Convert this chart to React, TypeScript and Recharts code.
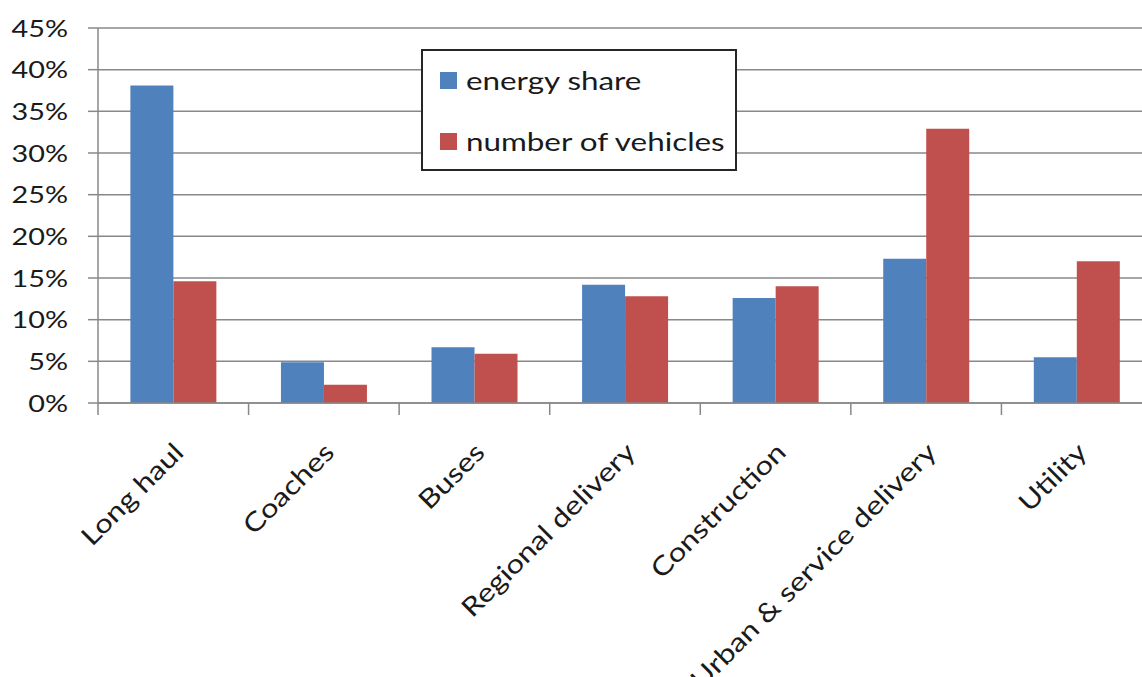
import React from 'react';
import { BarChart, Bar, XAxis, YAxis, CartesianGrid } from 'recharts';

// Vehicle segments and their shares (%)
const categories = [
    'Long haul',
    'Coaches',
    'Buses',
    'Regional delivery',
    'Construction',
    'Urban & service delivery',
    'Utility',
];
const energyShare = [38.1, 4.9, 6.7, 14.2, 12.6, 17.3, 5.5];
const vehicleShare = [14.6, 2.2, 5.9, 12.8, 14.0, 32.9, 17.0];
const yTicks = [0, 5, 10, 15, 20, 25, 30, 35, 40, 45];

const series = [
    { key: 'energy', name: 'energy share', color: '#4F81BD' },
    { key: 'vehicles', name: 'number of vehicles', color: '#C0504D' },
];

const data = categories.map((name, i) => ({
    name,
    energy: energyShare[i],
    vehicles: vehicleShare[i],
}));

const CHART_W = 1160;
const CHART_H = 677;
const MARGIN = { top: 28, right: 8, bottom: 0, left: 0 };
const Y_AXIS_W = 98;
const X_AXIS_H = 274;
const BAND = (CHART_W - MARGIN.left - MARGIN.right - Y_AXIS_W) / categories.length;

const FONT = 'Lato, "Open Sans", sans-serif';
const TEXT_COLOR = '#1a1a1a';
const AXIS_COLOR = '#888888';
const STRETCH = 1.2;

const YTick = (props: any) => {
    const { x, y, payload } = props;
    return (
        <text
            transform={`translate(${x},${y}) scale(${STRETCH},1)`}
            textAnchor="end"
            dy="0.36em"
            fontFamily={FONT}
            fontSize={24}
            fill={TEXT_COLOR}
        >
            {`${payload.value}%`}
        </text>
    );
};

const XTick = (props: any) => {
    const { x, y, payload, index } = props;
    const left = x - BAND / 2;
    const right = x + BAND / 2;
    return (
        <g>
            <line x1={left} x2={left} y1={y} y2={y + 12} stroke={AXIS_COLOR} strokeWidth={1.5} />
            {index === categories.length - 1 && (
                <line x1={right} x2={right} y1={y} y2={y + 12} stroke={AXIS_COLOR} strokeWidth={1.5} />
            )}
            <text
                transform={`translate(${x + 12},${y + 51}) rotate(-45) scale(${STRETCH},1)`}
                textAnchor="end"
                fontFamily={FONT}
                fontSize={26}
                fill={TEXT_COLOR}
            >
                {payload.value}
            </text>
        </g>
    );
};

const LegendBox = () => (
    <div
        style={{
            position: 'absolute',
            left: 421,
            top: 49,
            width: 312,
            height: 118,
            border: '2px solid #262626',
            background: '#fff',
        }}
    >
        {series.map((s, i) => (
            <div
                key={s.key}
                style={{
                    position: 'absolute',
                    left: 17,
                    top: 21 + i * 60.5,
                    height: 17,
                    display: 'flex',
                    alignItems: 'center',
                }}
            >
                <div style={{ width: 17, height: 17, background: s.color, flex: 'none' }} />
                <span
                    style={{
                        marginLeft: 9,
                        fontFamily: FONT,
                        fontSize: 25.5,
                        color: TEXT_COLOR,
                        whiteSpace: 'nowrap',
                        display: 'inline-block',
                        transform: 'scaleX(1.23)',
                        transformOrigin: 'left center',
                        lineHeight: '17px',
                    }}
                >
                    {s.name}
                </span>
            </div>
        ))}
    </div>
);

const App: React.FC = () => {
    return (
        <div
            style={{
                position: 'absolute',
                left: 0,
                top: 0,
                width: 1142,
                height: 677,
                overflow: 'hidden',
                background: '#fff',
            }}
        >
            <BarChart
                width={CHART_W}
                height={CHART_H}
                data={data}
                margin={MARGIN}
                barCategoryGap="21.5%"
                barGap={0}
            >
                <CartesianGrid vertical={false} stroke={AXIS_COLOR} strokeWidth={1.5} />
                <XAxis
                    dataKey="name"
                    height={X_AXIS_H}
                    interval={0}
                    tickLine={false}
                    tickSize={0}
                    tickMargin={0}
                    axisLine={{ stroke: AXIS_COLOR, strokeWidth: 1.5 }}
                    tick={<XTick />}
                />
                <YAxis
                    width={Y_AXIS_W}
                    domain={[0, 45]}
                    ticks={yTicks}
                    interval={0}
                    tickSize={10}
                    tickMargin={20}
                    tickLine={{ stroke: AXIS_COLOR, strokeWidth: 1.5 }}
                    axisLine={{ stroke: AXIS_COLOR, strokeWidth: 1.5 }}
                    tick={<YTick />}
                />
                {series.map(s => (
                    <Bar
                        key={s.key}
                        dataKey={s.key}
                        name={s.name}
                        fill={s.color}
                        isAnimationActive={false}
                    />
                ))}
            </BarChart>
            <LegendBox />
        </div>
    );
};

export default App;
